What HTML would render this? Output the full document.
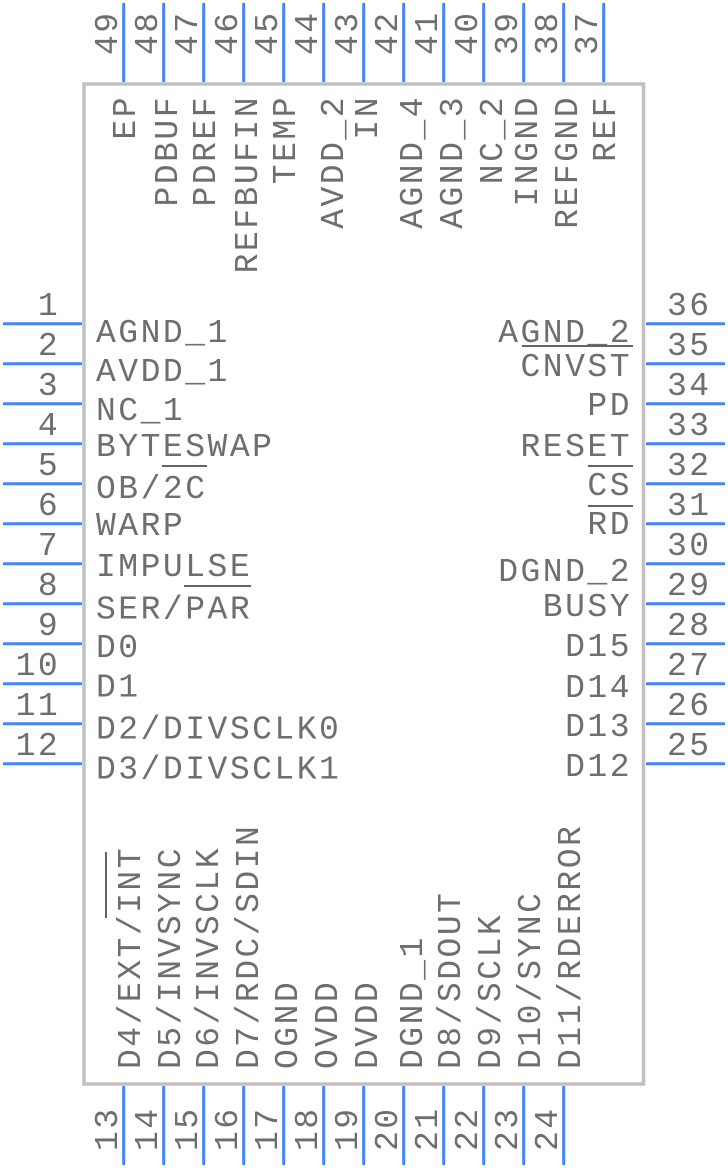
<!DOCTYPE html>
<html><head><meta charset="utf-8"><style>
html,body{margin:0;padding:0;background:#fff;}
svg{display:block;}
text{font-family:"Liberation Mono",monospace;font-size:33px;letter-spacing:2.5px;fill:#6e6e6e;}
.p{stroke:#4285F4;stroke-width:3;}
.ob{stroke:#646464;stroke-width:2;}
</style></head><body>
<svg width="728" height="1168" viewBox="0 0 728 1168" xmlns="http://www.w3.org/2000/svg">
<rect x="84" y="84" width="559.5" height="1000" fill="#fff" stroke="#c0c0c0" stroke-width="3.5"/>
<!-- top pins -->
<g class="p">
<line x1="123.7" y1="3" x2="123.7" y2="82"/><line x1="163.7" y1="3" x2="163.7" y2="82"/>
<line x1="203.7" y1="3" x2="203.7" y2="82"/><line x1="243.7" y1="3" x2="243.7" y2="82"/>
<line x1="283.7" y1="3" x2="283.7" y2="82"/><line x1="323.7" y1="3" x2="323.7" y2="82"/>
<line x1="363.7" y1="3" x2="363.7" y2="82"/><line x1="403.7" y1="3" x2="403.7" y2="82"/>
<line x1="443.7" y1="3" x2="443.7" y2="82"/><line x1="483.7" y1="3" x2="483.7" y2="82"/>
<line x1="523.7" y1="3" x2="523.7" y2="82"/><line x1="563.7" y1="3" x2="563.7" y2="82"/>
<line x1="603.7" y1="3" x2="603.7" y2="82"/>
<!-- bottom pins -->
<line x1="123.7" y1="1086" x2="123.7" y2="1165"/><line x1="163.7" y1="1086" x2="163.7" y2="1165"/>
<line x1="203.7" y1="1086" x2="203.7" y2="1165"/><line x1="243.7" y1="1086" x2="243.7" y2="1165"/>
<line x1="283.7" y1="1086" x2="283.7" y2="1165"/><line x1="323.7" y1="1086" x2="323.7" y2="1165"/>
<line x1="363.7" y1="1086" x2="363.7" y2="1165"/><line x1="403.7" y1="1086" x2="403.7" y2="1165"/>
<line x1="443.7" y1="1086" x2="443.7" y2="1165"/><line x1="483.7" y1="1086" x2="483.7" y2="1165"/>
<line x1="523.7" y1="1086" x2="523.7" y2="1165"/><line x1="563.7" y1="1086" x2="563.7" y2="1165"/>
<!-- left pins -->
<line x1="3" y1="323.7" x2="82" y2="323.7"/><line x1="3" y1="363.7" x2="82" y2="363.7"/>
<line x1="3" y1="403.7" x2="82" y2="403.7"/><line x1="3" y1="443.7" x2="82" y2="443.7"/>
<line x1="3" y1="483.7" x2="82" y2="483.7"/><line x1="3" y1="523.7" x2="82" y2="523.7"/>
<line x1="3" y1="563.7" x2="82" y2="563.7"/><line x1="3" y1="603.7" x2="82" y2="603.7"/>
<line x1="3" y1="643.7" x2="82" y2="643.7"/><line x1="3" y1="683.7" x2="82" y2="683.7"/>
<line x1="3" y1="723.7" x2="82" y2="723.7"/><line x1="3" y1="763.7" x2="82" y2="763.7"/>
<!-- right pins -->
<line x1="646" y1="323.7" x2="725" y2="323.7"/><line x1="646" y1="363.7" x2="725" y2="363.7"/>
<line x1="646" y1="403.7" x2="725" y2="403.7"/><line x1="646" y1="443.7" x2="725" y2="443.7"/>
<line x1="646" y1="483.7" x2="725" y2="483.7"/><line x1="646" y1="523.7" x2="725" y2="523.7"/>
<line x1="646" y1="563.7" x2="725" y2="563.7"/><line x1="646" y1="603.7" x2="725" y2="603.7"/>
<line x1="646" y1="643.7" x2="725" y2="643.7"/><line x1="646" y1="683.7" x2="725" y2="683.7"/>
<line x1="646" y1="723.7" x2="725" y2="723.7"/><line x1="646" y1="763.7" x2="725" y2="763.7"/>
</g>

<!-- left pin numbers -->
<text x="37.9" y="315">1</text><text x="37.9" y="355">2</text><text x="37.9" y="395">3</text>
<text x="37.9" y="435">4</text><text x="37.9" y="475">5</text><text x="37.9" y="515">6</text>
<text x="37.9" y="555">7</text><text x="37.9" y="595">8</text><text x="37.9" y="635">9</text>
<text x="15.6" y="675">10</text><text x="15.6" y="715">11</text><text x="15.6" y="755">12</text>

<!-- right pin numbers -->
<text x="667" y="315">36</text><text x="667" y="355">35</text><text x="667" y="395">34</text>
<text x="667" y="435">33</text><text x="667" y="475">32</text><text x="667" y="515">31</text>
<text x="667" y="555">30</text><text x="667" y="595">29</text><text x="667" y="635">28</text>
<text x="667" y="675">27</text><text x="667" y="715">26</text><text x="667" y="755">25</text>

<!-- top pin numbers -->
<text transform="translate(117,55) rotate(-90)">49</text>
<text transform="translate(157,55) rotate(-90)">48</text>
<text transform="translate(197,55) rotate(-90)">47</text>
<text transform="translate(237,55) rotate(-90)">46</text>
<text transform="translate(277,55) rotate(-90)">45</text>
<text transform="translate(317,55) rotate(-90)">44</text>
<text transform="translate(357,55) rotate(-90)">43</text>
<text transform="translate(397,55) rotate(-90)">42</text>
<text transform="translate(437,55) rotate(-90)">41</text>
<text transform="translate(477,55) rotate(-90)">40</text>
<text transform="translate(517,55) rotate(-90)">39</text>
<text transform="translate(557,55) rotate(-90)">38</text>
<text transform="translate(597,55) rotate(-90)">37</text>

<!-- bottom pin numbers -->
<text transform="translate(117,1151) rotate(-90)">13</text>
<text transform="translate(157,1151) rotate(-90)">14</text>
<text transform="translate(197,1151) rotate(-90)">15</text>
<text transform="translate(237,1151) rotate(-90)">16</text>
<text transform="translate(277,1151) rotate(-90)">17</text>
<text transform="translate(317,1151) rotate(-90)">18</text>
<text transform="translate(357,1151) rotate(-90)">19</text>
<text transform="translate(397,1151) rotate(-90)">20</text>
<text transform="translate(437,1151) rotate(-90)">21</text>
<text transform="translate(477,1151) rotate(-90)">22</text>
<text transform="translate(517,1151) rotate(-90)">23</text>
<text transform="translate(557,1151) rotate(-90)">24</text>

<!-- left labels -->
<text x="96" y="342">AGND_1</text>
<text x="96" y="381">AVDD_1</text>
<text x="96" y="420">NC_1</text>
<text x="96" y="456">BYTESWAP</text>
<text x="96" y="498">OB/2C</text>
<text x="96" y="535">WARP</text>
<text x="96" y="576">IMPULSE</text>
<text x="96" y="618.5">SER/PAR</text>
<text x="96" y="657">D0</text>
<text x="96" y="696.5">D1</text>
<text x="96" y="738.5">D2/DIVSCLK0</text>
<text x="96" y="778.5">D3/DIVSCLK1</text>
<line class="ob" x1="162" y1="466" x2="207" y2="466"/>
<line class="ob" x1="184" y1="586" x2="251" y2="586"/>

<!-- right labels -->
<text x="498.2" y="342">AGND_2</text>
<text x="520.5" y="376">CNVST</text>
<text x="587.4" y="415">PD</text>
<text x="520.5" y="456">RESET</text>
<text x="587.4" y="495">CS</text>
<text x="587.4" y="534">RD</text>
<text x="498.2" y="581">DGND_2</text>
<text x="542.8" y="616">BUSY</text>
<text x="565.1" y="656">D15</text>
<text x="565.1" y="697">D14</text>
<text x="565.1" y="736">D13</text>
<text x="565.1" y="776">D12</text>
<line class="ob" x1="522" y1="346" x2="633" y2="346"/>
<line class="ob" x1="588" y1="466" x2="633" y2="466"/>
<line class="ob" x1="588" y1="506" x2="633" y2="506"/>

<!-- top labels -->
<text transform="translate(135,139.6) rotate(-90)">EP</text>
<text transform="translate(177,206.5) rotate(-90)">PDBUF</text>
<text transform="translate(215,206.5) rotate(-90)">PDREF</text>
<text transform="translate(257,273.4) rotate(-90)">REFBUFIN</text>
<text transform="translate(295,184.2) rotate(-90)">TEMP</text>
<text transform="translate(343,228.8) rotate(-90)">AVDD_2</text>
<text transform="translate(377,139.6) rotate(-90)">IN</text>
<text transform="translate(422,228.8) rotate(-90)">AGND_4</text>
<text transform="translate(462,228.8) rotate(-90)">AGND_3</text>
<text transform="translate(502,184.2) rotate(-90)">NC_2</text>
<text transform="translate(537,206.5) rotate(-90)">INGND</text>
<text transform="translate(577,228.8) rotate(-90)">REFGND</text>
<text transform="translate(615,161.9) rotate(-90)">REF</text>

<!-- bottom labels -->
<text transform="translate(140,1069) rotate(-90)">D4/EXT/INT</text>
<text transform="translate(180,1069) rotate(-90)">D5/INVSYNC</text>
<text transform="translate(218,1069) rotate(-90)">D6/INVSCLK</text>
<text transform="translate(258,1069) rotate(-90)">D7/RDC/SDIN</text>
<text transform="translate(297,1069) rotate(-90)">OGND</text>
<text transform="translate(337,1069) rotate(-90)">OVDD</text>
<text transform="translate(377,1069) rotate(-90)">DVDD</text>
<text transform="translate(422,1069) rotate(-90)">DGND_1</text>
<text transform="translate(460,1069) rotate(-90)">D8/SDOUT</text>
<text transform="translate(500,1069) rotate(-90)">D9/SCLK</text>
<text transform="translate(540,1069) rotate(-90)">D10/SYNC</text>
<text transform="translate(580,1069) rotate(-90)">D11/RDERROR</text>
<line class="ob" x1="106" y1="852" x2="106" y2="918"/>
</svg>
</body></html>
